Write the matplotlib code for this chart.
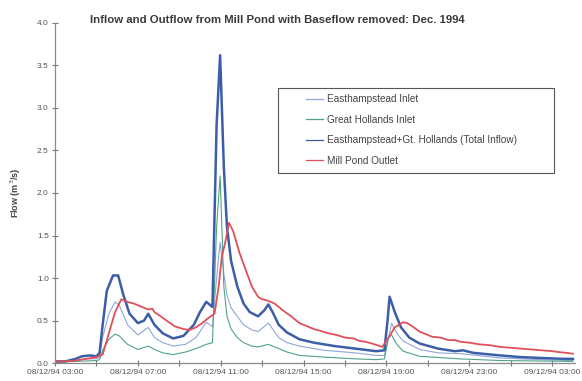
import matplotlib
matplotlib.use("Agg")
import matplotlib.pyplot as plt
from matplotlib.ticker import MultipleLocator, FixedLocator
from matplotlib.patches import Rectangle

plt.rcParams['font.family'] = ['Liberation Sans', 'DejaVu Sans']

# hours since 08/12/94 03:00
t_total = [0, 0.5, 1.0, 1.3, 1.7, 2.0, 2.15, 2.3, 2.5, 2.8, 3.05, 3.3, 3.6, 4.0, 4.3, 4.5, 4.8,
           5.2, 5.7, 6.2, 6.7, 7.0, 7.3, 7.6, 7.8, 7.97, 8.15, 8.3, 8.5, 8.8, 9.1, 9.4, 9.8,
           10.1, 10.3, 10.5, 10.8, 11.2, 11.8, 12.5, 13.5, 14.5, 15.5, 15.9, 16.05, 16.15,
           16.4, 16.7, 17.1, 17.6, 18.5, 19.3, 19.7, 20.2, 21.5, 22.5, 23.5, 24.5, 25.0]
total = [0.02, 0.02, 0.05, 0.08, 0.09, 0.08, 0.12, 0.45, 0.85, 1.03, 1.03, 0.80, 0.58, 0.47,
         0.50, 0.58, 0.45, 0.35, 0.29, 0.32, 0.45, 0.60, 0.72, 0.66, 2.80, 3.62, 2.30, 1.60,
         1.20, 0.90, 0.70, 0.60, 0.55, 0.62, 0.69, 0.60, 0.45, 0.36, 0.28, 0.24, 0.20, 0.17,
         0.14, 0.15, 0.50, 0.78, 0.60, 0.42, 0.30, 0.23, 0.17, 0.14, 0.15, 0.12, 0.09, 0.07,
         0.06, 0.05, 0.05]

t_gh = [0, 1.0, 2.0, 2.15, 2.3, 2.6, 2.9, 3.1, 3.5, 4.0, 4.5, 4.8, 5.2, 5.7, 6.3, 6.8, 7.3,
        7.6, 7.8, 7.97, 8.15, 8.3, 8.5, 8.8, 9.1, 9.5, 9.8, 10.3, 10.8, 11.2, 11.8, 13.0,
        14.5, 15.5, 15.9, 16.1, 16.25, 16.5, 16.8, 17.6, 19.5, 21.5, 25.0]
great_hollands = [0.01, 0.02, 0.03, 0.04, 0.15, 0.28, 0.34, 0.32, 0.22, 0.16, 0.20, 0.16,
                  0.12, 0.10, 0.13, 0.17, 0.22, 0.24, 1.60, 2.20, 0.90, 0.55, 0.40, 0.30,
                  0.24, 0.20, 0.19, 0.22, 0.17, 0.13, 0.09, 0.07, 0.05, 0.04, 0.05, 0.30,
                  0.33, 0.22, 0.14, 0.08, 0.05, 0.03, 0.02]

t_e = [0, 1.0, 1.5, 2.0, 2.15, 2.3, 2.6, 2.9, 3.1, 3.5, 4.0, 4.5, 4.8, 5.2, 5.7, 6.3, 6.8,
       7.3, 7.6, 7.8, 7.97, 8.15, 8.3, 8.5, 8.8, 9.1, 9.5, 9.8, 10.3, 10.8, 11.2, 11.8, 13.0,
       14.5, 15.5, 15.9, 16.1, 16.25, 16.5, 16.8, 17.6, 18.5, 19.6, 21.5, 23.5, 25.0]
easthampstead = [0.01, 0.03, 0.05, 0.05, 0.07, 0.30, 0.58, 0.72, 0.68, 0.45, 0.33, 0.42,
                 0.30, 0.24, 0.20, 0.22, 0.30, 0.48, 0.43, 1.00, 1.42, 1.05, 0.80, 0.65,
                 0.55, 0.45, 0.39, 0.37, 0.47, 0.30, 0.24, 0.20, 0.15, 0.12, 0.09, 0.09,
                 0.30, 0.47, 0.35, 0.26, 0.16, 0.12, 0.11, 0.06, 0.04, 0.03]

t_out = [0, 0.5, 1.0, 1.5, 2.0, 2.3, 2.6, 2.9, 3.2, 3.5, 3.8, 4.0, 4.2, 4.5, 4.7, 4.8, 5.1,
         5.5, 5.8, 6.2, 6.5, 6.8, 7.1, 7.4, 7.7, 7.9, 8.05, 8.2, 8.4, 8.6, 8.9, 9.2, 9.5,
         9.8, 10.0, 10.2, 10.4, 10.6, 11.0, 11.4, 11.8, 12.1, 12.5, 12.8, 13.2, 13.6, 14.0,
         14.4, 14.7, 15.0, 15.3, 15.8, 16.1, 16.4, 16.6, 16.8, 17.0, 17.2, 17.6, 17.9, 18.2,
         18.6, 19.0, 19.3, 19.6, 20.0, 20.5, 21.0, 21.5, 22.0, 22.5, 23.0, 23.5, 24.0, 24.3,
         24.7, 25.0]
outlet = [0.02, 0.02, 0.03, 0.05, 0.07, 0.10, 0.35, 0.60, 0.75, 0.72, 0.70, 0.68, 0.66,
          0.63, 0.64, 0.60, 0.55, 0.48, 0.43, 0.40, 0.39, 0.42, 0.47, 0.53, 0.58, 0.90, 1.25,
          1.40, 1.65, 1.55, 1.30, 1.10, 0.90, 0.78, 0.75, 0.74, 0.72, 0.70, 0.62, 0.55, 0.47,
          0.44, 0.40, 0.38, 0.35, 0.33, 0.30, 0.29, 0.26, 0.25, 0.23, 0.19, 0.30, 0.42, 0.45,
          0.48, 0.47, 0.44, 0.37, 0.34, 0.31, 0.30, 0.27, 0.27, 0.25, 0.24, 0.22, 0.21, 0.19,
          0.18, 0.17, 0.16, 0.15, 0.14, 0.13, 0.12, 0.11]

tick_labels = ["08/12/94 03:00", "08/12/94 07:00", "08/12/94 11:00", "08/12/94 15:00",
               "08/12/94 19:00", "08/12/94 23:00", "09/12/94 03:00"]

fig = plt.figure(figsize=(5.82, 3.81), dpi=100)
ax = fig.add_axes([0.0945, 0.047, 0.8935, 0.893])

ax.plot(t_e, easthampstead, color='#8fa6d6', lw=0.8, label='Easthampstead Inlet')
ax.plot(t_gh, great_hollands, color='#4fa386', lw=0.8, label='Great Hollands Inlet')
ax.plot(t_total, total, color='#3c5ea8', lw=1.8, label='Easthampstead+Gt. Hollands (Total Inflow)')
ax.plot(t_out, outlet, color='#e0505a', lw=1.3, label='Mill Pond Outlet')

ax.set_xlim(0, 25.1)
ax.set_ylim(0, 4.0)
ax.yaxis.set_major_locator(MultipleLocator(0.5))
ax.yaxis.set_major_formatter(matplotlib.ticker.FormatStrFormatter('%.1f'))
ax.set_xticks([0, 4, 8, 12, 16, 20, 24])
ax.set_xticklabels(tick_labels)
ax.xaxis.set_minor_locator(FixedLocator([2, 6, 10, 14, 18, 22]))

for s in ['top', 'right']:
    ax.spines[s].set_visible(False)
for s in ['left', 'bottom']:
    ax.spines[s].set_color('#888888')
    ax.spines[s].set_linewidth(0.9)
ax.tick_params(axis='both', which='both', direction='inout', length=5, width=0.8,
               color='#777777', labelsize=6, labelcolor='#555555', pad=2)

ax.set_ylabel('Flow (m$^3$/s)', fontsize=6.5, fontweight='bold', color='#444444', labelpad=10)

fig.text(0.476, 0.947, 'Inflow and Outflow from Mill Pond with Baseflow removed: Dec. 1994',
         ha='center', va='center', fontsize=8.2, fontweight='bold', color='#3a3a3a')

# legend box
ax.add_patch(Rectangle((0.429, 0.559), 0.531, 0.25, transform=ax.transAxes, fill=True,
                       facecolor='white', edgecolor='#555555', linewidth=0.8, zorder=5))
leg = ax.legend(loc='upper left', bbox_to_anchor=(0.482, 0.790), frameon=False,
                fontsize=7.2, handlelength=1.7, handletextpad=0.4, labelspacing=1.05,
                borderpad=0, borderaxespad=0)
leg.set_zorder(6)
for txt in leg.get_texts():
    txt.set_color('#444444')
for h in leg.get_lines():
    h.set_linewidth(0.9)

fig.savefig('out.png', dpi=100)
